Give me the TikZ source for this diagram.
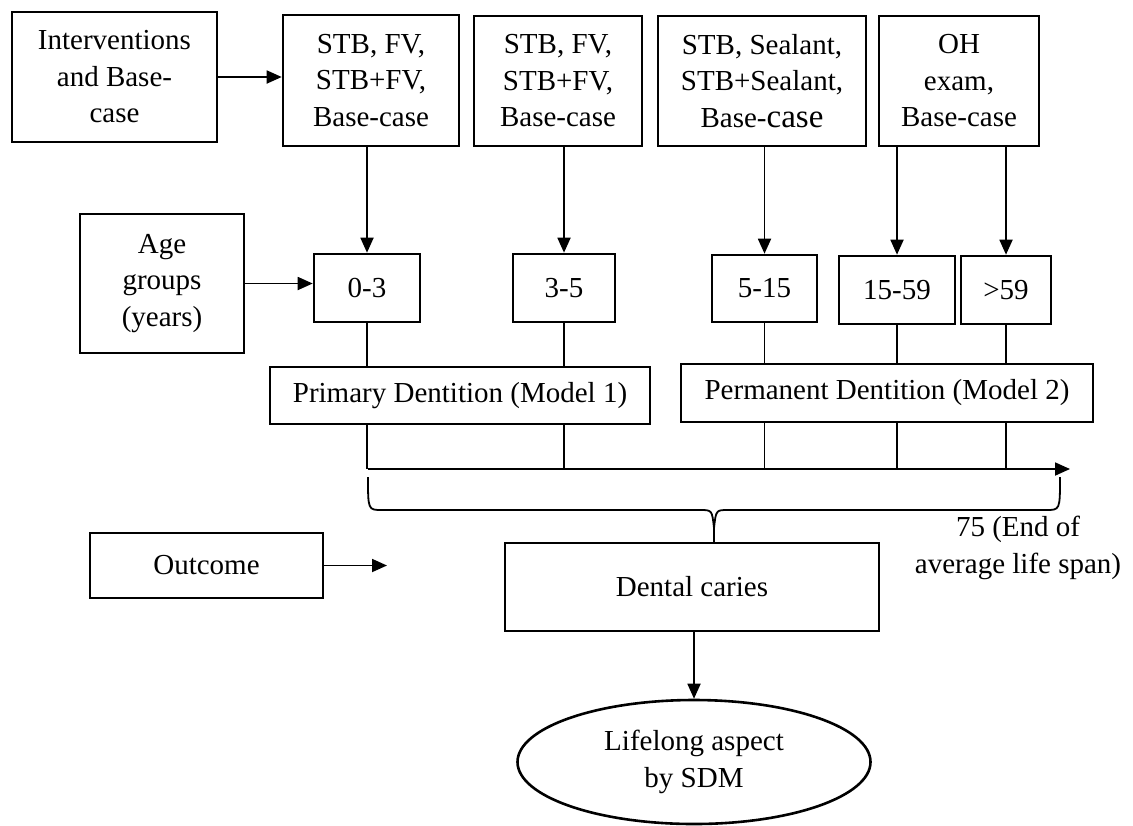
\documentclass[tikz,border=0pt]{standalone}
\usepackage{fontspec}
\setmainfont{Liberation Serif}
\usetikzlibrary{shapes.geometric, arrows.meta, positioning}

\begin{document}
\begin{tikzpicture}[
  x=0.5pt, y=-0.5pt,
  box/.style={
    rectangle,
    draw,
    line width=1.3pt,
    inner sep=0pt,
    align=center,
    font=\fontsize{14.5}{18.25}\selectfont
  },
  link/.style={line width=0.9pt},
  arr/.style={line width=0.9pt, -{Triangle[length=7.5pt, width=6.5pt]}}
]
  \useasboundingbox (0,0) rectangle (1133,825);

  % Interventions row
  \node[box, minimum width=102.5pt, minimum height=65pt] (interv) at (114.5,77) {Interventions\\and Base-\\case};
  \node[box, minimum width=88pt, minimum height=65.5pt] (iv1) at (371,80.5) {STB, FV,\\STB+FV,\\Base-case};
  \node[box, minimum width=84pt, minimum height=65pt] (iv2) at (558,81) {STB, FV,\\STB+FV,\\Base-case};
  \node[box, minimum width=104pt, minimum height=65pt] (iv3) at (762,81) {STB, Sealant,\\STB+Sealant,\\Base-{\fontsize{16.5}{18.25}\selectfont case}};
  \node[box, minimum width=80pt, minimum height=65pt] (iv4) at (959,81) {OH\\exam,\\Base-case};

  % Age groups row
  \node[box, minimum width=82pt, minimum height=69.5pt] (age) at (162,283.5) {Age\\groups\\(years)};
  \node[box, minimum width=53pt, minimum height=34pt] (a03) at (367,288) {0-3};
  \node[box, minimum width=51pt, minimum height=34pt] (a35) at (564,288) {3-5};
  \node[box, minimum width=52.5pt, minimum height=33.5pt] (a515) at (764.5,288.5) {5-15};
  \node[box, minimum width=58pt, minimum height=34pt] (a1559) at (897,290) {15-59};
  \node[box, minimum width=45pt, minimum height=34pt] (a59) at (1006,290) {>59};

  % Models
  \node[box, minimum width=190pt, minimum height=28.5pt] (primary) at (460,395.5) {Primary Dentition (Model 1)};
  \node[box, minimum width=206pt, minimum height=29pt] (perm) at (887,393) {Permanent Dentition (Model 2)};

  % Outcome
  \node[box, minimum width=116.5pt, minimum height=32.5pt] (outcome) at (206.5,565.5) {Outcome};
  \node[box, minimum width=187pt, minimum height=44pt] (dental) at (692,587) {Dental caries};
  \node[box, ellipse, minimum width=176.5pt, minimum height=62pt] (life) at (694,762) {Lifelong aspect\\by SDM};
  \node[align=center, font=\fontsize{14.5}{18.25}\selectfont] (endlabel) at (1018,548) {75 (End of\\average life span)};

  % Arrows into the boxes
  \draw[arr] (interv.east) -- (interv.east -| iv1.west);
  \draw[arr] (age.east) -- (age.east -| a03.west);
  \draw[arr] (a03.north |- iv1.south) -- (a03.north);
  \draw[arr] (a35.north |- iv2.south) -- (a35.north);
  \draw[arr] (a515.north |- iv3.south) -- (a515.north);
  \draw[arr] (a1559.north |- iv4.south) -- (a1559.north);
  \draw[arr] (a59.north |- iv4.south) -- (a59.north);

  % Age groups to models
  \draw[link] (a03.south) -- (a03.south |- primary.north);
  \draw[link] (a35.south) -- (a35.south |- primary.north);
  \draw[link] (a515.south) -- (a515.south |- perm.north);
  \draw[link] (a1559.south) -- (a1559.south |- perm.north);
  \draw[link] (a59.south) -- (a59.south |- perm.north);

  % Timeline
  \coordinate (tstart) at (368,469);
  \coordinate (tend) at (1070,469);
  \draw[arr] (tstart) -- (tend);
  \draw[link] (a03.south |- primary.south) -- (a03.south |- tstart);
  \draw[link] (a35.south |- primary.south) -- (a35.south |- tstart);
  \draw[link] (a515.south |- perm.south) -- (a515.south |- tstart);
  \draw[link] (a1559.south |- perm.south) -- (a1559.south |- tstart);
  \draw[link] (a59.south |- perm.south) -- (a59.south |- tstart);

  % Brace over the life span
  \coordinate (cusp) at (714,528);
  \draw[link] (368,477) .. controls (368,510) .. (382,510) -- (700,510)
    .. controls (712,510) .. (cusp) .. controls (716,510) .. (728,510)
    -- (1046,510) .. controls (1060,510) .. (1060,477);
  \draw[link] (cusp) -- (cusp |- dental.north);

  % Outcome arrows
  \coordinate (outend) at (387,568);
  \draw[arr] (outcome.east) -- (outcome.east -| outend);
  \draw[arr] (life.north |- dental.south) -- (life.north);
\end{tikzpicture}
\end{document}
